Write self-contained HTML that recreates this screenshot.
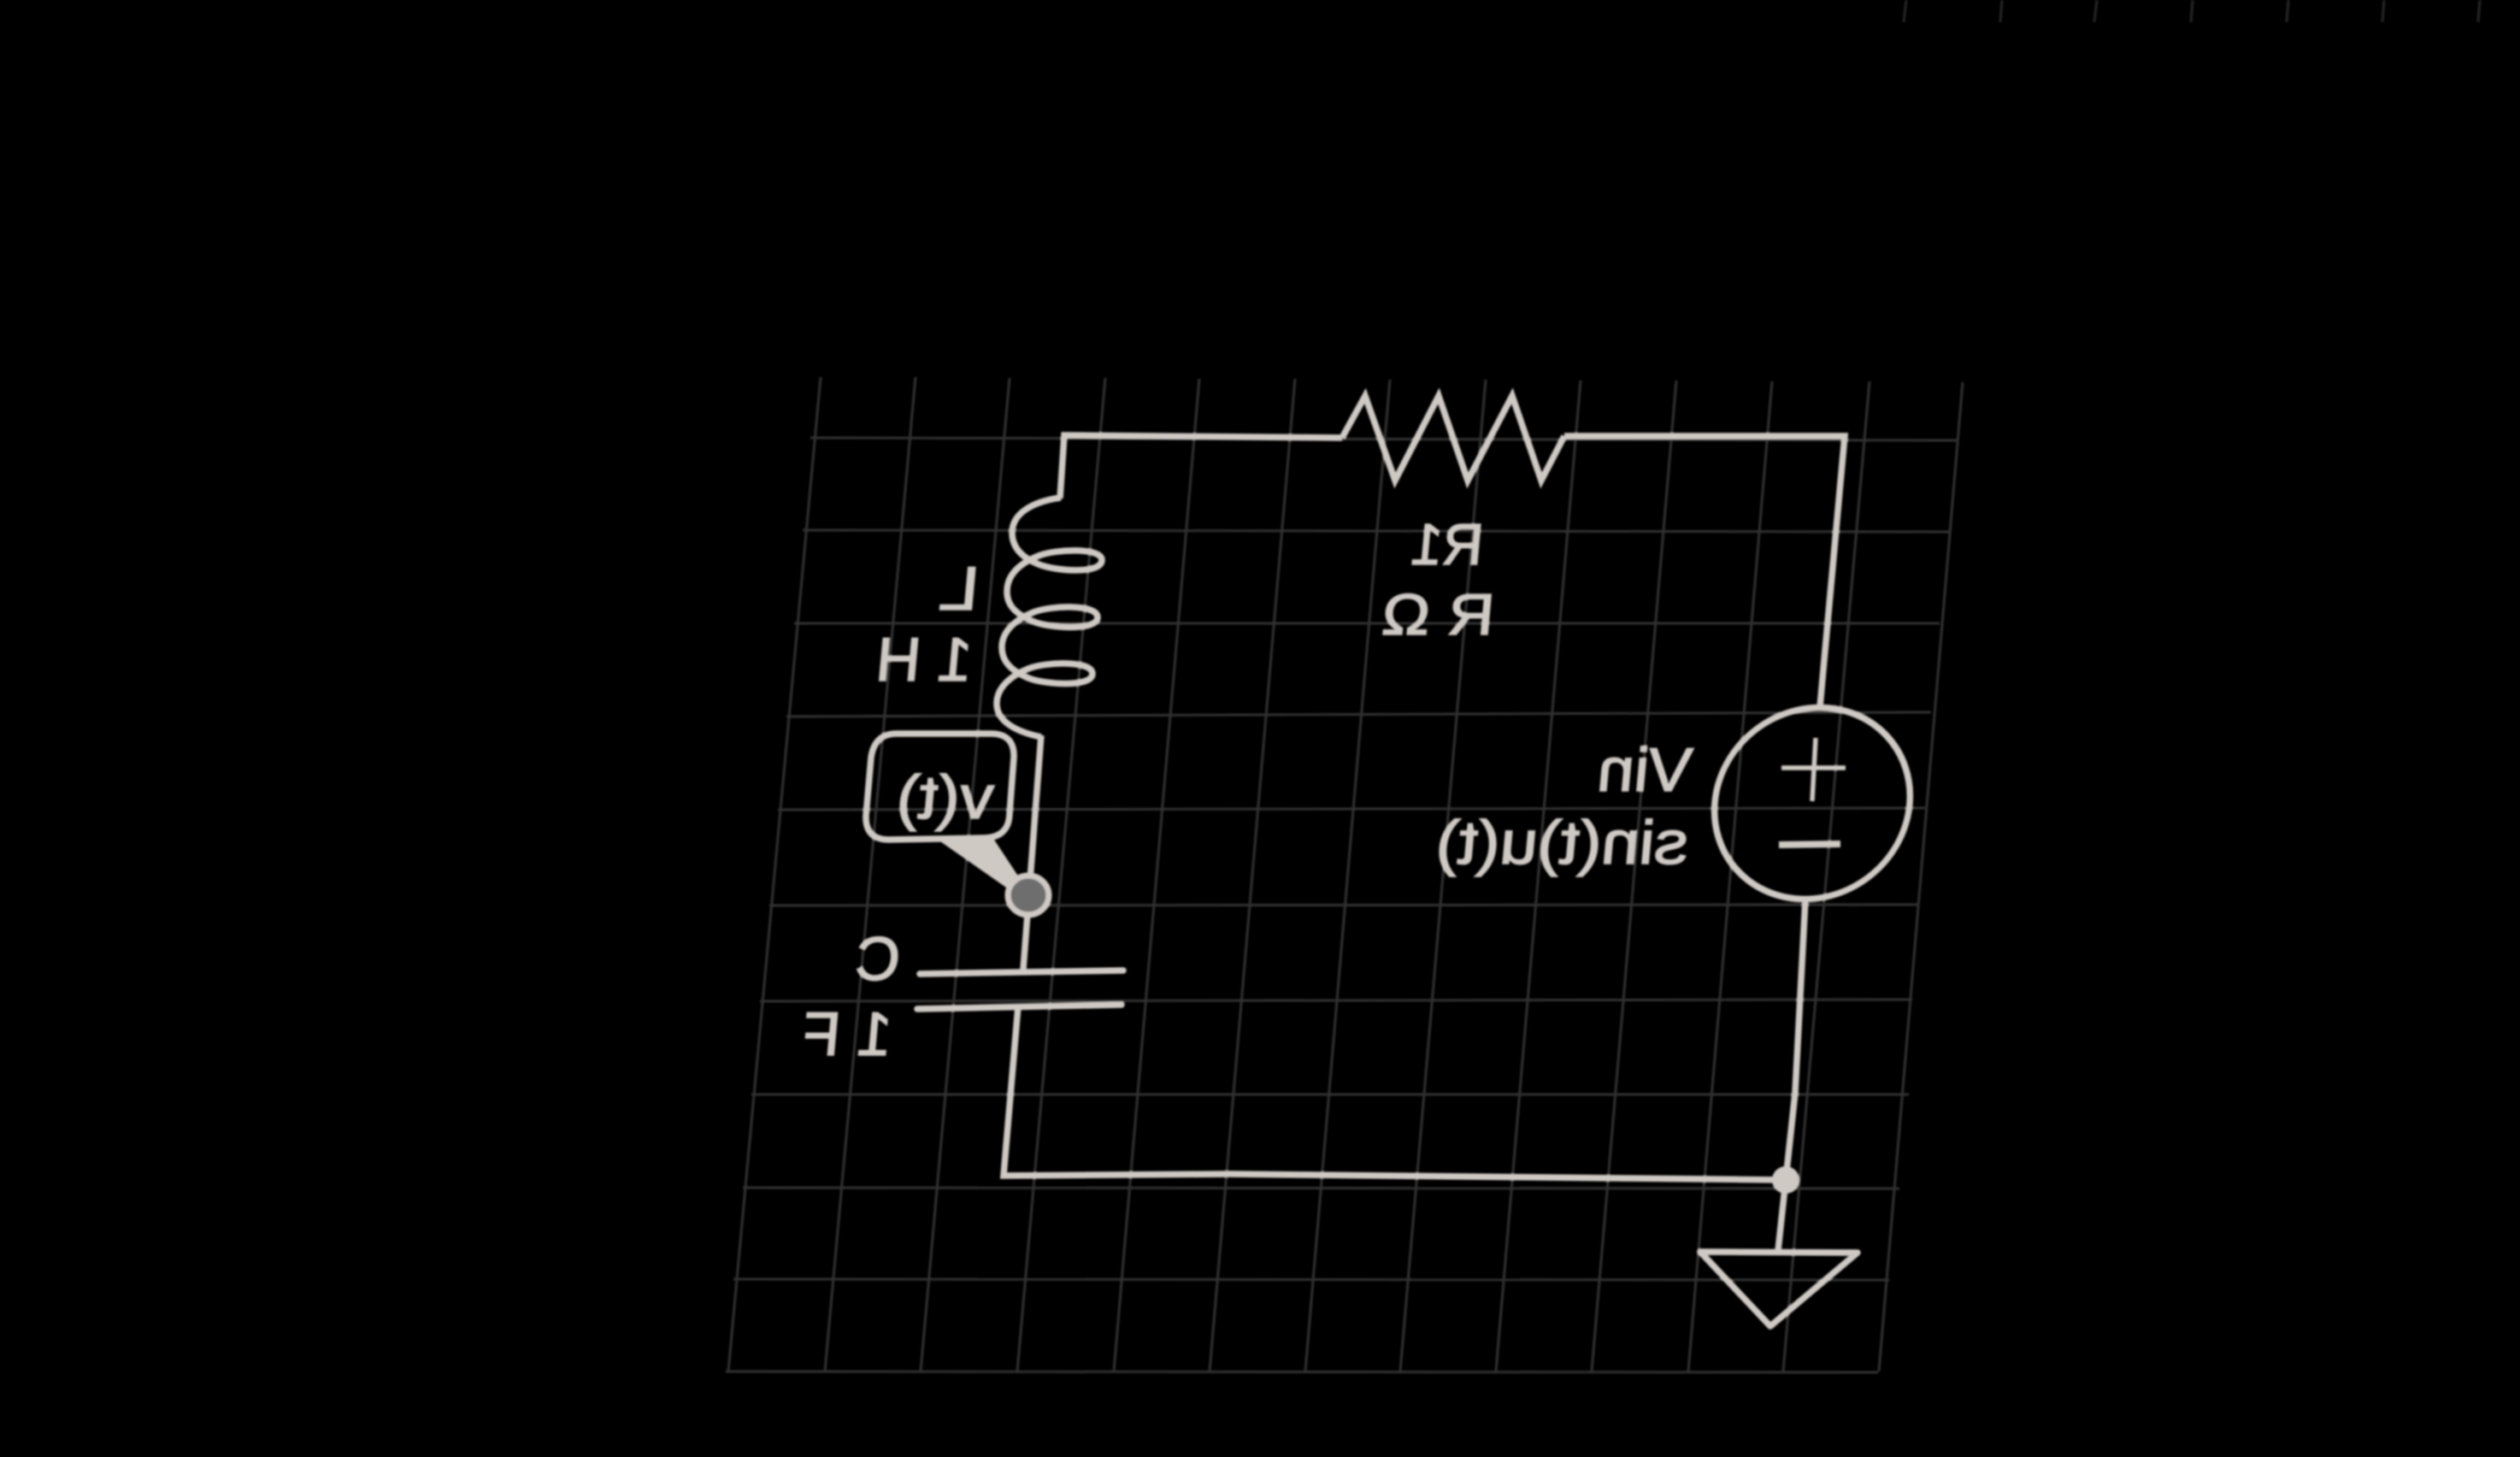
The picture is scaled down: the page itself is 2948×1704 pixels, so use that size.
<!DOCTYPE html>
<html lang="en">
<head>
<meta charset="utf-8">
<title>Mirrored RLC circuit schematic</title>
<style>
html,body{margin:0;padding:0;background:#000;width:2948px;height:1704px;overflow:hidden}
svg{display:block}
text{font-family:"Liberation Sans","DejaVu Sans",sans-serif;fill:#cfc9c4;stroke:#cfc9c4;stroke-width:1.6;font-size:72px}
.grid line{stroke:#323232;stroke-width:3}
.ticks line{stroke:#262626;stroke-width:3}
.wire{fill:none;stroke:#cfc9c4;stroke-width:7.5;stroke-linecap:butt}
</style>
</head>
<body>
<svg xmlns="http://www.w3.org/2000/svg" width="2948" height="1704" viewBox="0 0 2948 1704">
<defs><filter id="soft" x="0" y="0" width="2948" height="1704" filterUnits="userSpaceOnUse"><feGaussianBlur stdDeviation="1.1"/></filter></defs>
<rect width="2948" height="1704" fill="#000"/>
<g filter="url(#soft)">
<g class="ticks">
<line x1="2230" y1="0" x2="2227" y2="26"/><line x1="2342" y1="0" x2="2340" y2="26"/><line x1="2453" y1="0" x2="2450" y2="26"/><line x1="2565" y1="0" x2="2563" y2="26"/><line x1="2677" y1="0" x2="2675" y2="26"/><line x1="2789" y1="0" x2="2787" y2="26"/><line x1="2901" y1="0" x2="2899" y2="26"/>
</g>
<g class="grid">
<line x1="960" y1="441" x2="852" y2="1604"/><line x1="1071" y1="441" x2="965" y2="1604"/><line x1="1181" y1="442" x2="1077" y2="1604"/><line x1="1293" y1="442" x2="1190" y2="1604"/><line x1="1403" y1="443" x2="1303" y2="1604"/><line x1="1515" y1="443" x2="1415" y2="1604"/><line x1="1626" y1="444" x2="1527" y2="1604"/><line x1="1738" y1="444" x2="1638" y2="1604"/><line x1="1849" y1="445" x2="1750" y2="1604"/><line x1="1961" y1="445" x2="1862" y2="1604"/><line x1="2073" y1="446" x2="1975" y2="1604"/><line x1="2187" y1="446" x2="2086" y2="1604"/><line x1="2296" y1="447" x2="2198" y2="1604"/>
</g>
<g class="grid">
<line x1="948" y1="512" x2="2290" y2="515"/><line x1="939" y1="620" x2="2281" y2="622"/><line x1="929" y1="729" x2="2269" y2="729"/><line x1="920" y1="838" x2="2259" y2="833"/><line x1="910" y1="947" x2="2252" y2="945"/><line x1="900" y1="1059" x2="2245" y2="1058"/><line x1="889" y1="1171" x2="2237" y2="1169"/><line x1="879" y1="1280" x2="2233" y2="1280"/><line x1="869" y1="1389" x2="2222" y2="1390"/><line x1="858" y1="1496" x2="2210" y2="1497"/><line x1="849" y1="1604" x2="2197" y2="1605"/>
</g>

<polyline class="wire" points="1570,512 1245,509 1240,583"/>
<polyline class="wire" points="1570,512 1597,463 1632,562 1683,463 1717,562 1769,463 1803,562 1830,510"/>
<polyline class="wire" points="1830,510 2158,510 2129,827"/>
<path class="wire" d="M1241,582 C1205,587 1184,602 1184,623 C1184,640 1195,652 1215,660 C1235,668 1289,672 1289,655 C1289,640 1235,642 1215,650 C1200,656 1178,668 1178,692 C1178,708 1188,718 1209,727 C1229,735 1284,738 1284,722 C1284,706 1229,708 1209,716 C1194,722 1172,735 1172,757 C1172,773 1182,784 1203,793 C1223,801 1278,804 1278,788 C1278,772 1223,774 1203,782 C1188,788 1166,801 1166,823 C1166,842 1185,855 1218,862"/>
<polyline class="wire" points="1218,860 1197,1134"/>
<line class="wire" x1="1076" y1="1139" x2="1314" y2="1135" style="stroke-linecap:round"/>
<line class="wire" x1="1073" y1="1180" x2="1312" y2="1175" style="stroke-linecap:round"/>
<polyline class="wire" points="1191,1177 1174,1375 1440,1373 2089,1380"/>
<polyline class="wire" points="2112,1052 2100,1278 2089,1380 2080,1463"/>

<g>
<ellipse class="wire" cx="0" cy="0" rx="114" ry="112" transform="translate(2120 939.5) skewX(-4.5)"/>
<line class="wire" x1="2084" y1="898" x2="2159" y2="898" style="stroke-width:5.5"/>
<line class="wire" x1="2124" y1="863" x2="2120" y2="937" style="stroke-width:5.5"/>
<line class="wire" x1="2081" y1="988" x2="2153" y2="987" style="stroke-width:8"/>
</g>

<circle cx="2089" cy="1380" r="16" fill="#cfc9c4"/>
<polygon class="wire" points="1989,1464 2173,1465 2071,1551" style="stroke-linejoin:round"/>

<path class="wire" d="M1049,858 L1159,858 Q1187,858 1186,886 L1181,952 Q1180,979 1152,980 L1040,982 Q1012,982 1013,954 L1019,886 Q1023,858 1049,858 Z"/>
<polygon points="1097,982 1161,979 1198,1035 1180,1040" fill="#cfc9c4"/>
<ellipse cx="1203" cy="1047" rx="24" ry="23" fill="#6e6e6e" stroke="#cfc9c4" stroke-width="7"/>

<text transform="matrix(-1,0,-0.09,1,1733,660)" style="font-size:68px" textLength="84" lengthAdjust="spacingAndGlyphs">R1</text>
<text transform="matrix(-1,0,-0.09,1,1746,742)" style="font-size:68px" textLength="131" lengthAdjust="spacingAndGlyphs">R Ω</text>
<text transform="matrix(-1,0,-0.09,1,1143,713)" textLength="46" lengthAdjust="spacingAndGlyphs">L</text>
<text transform="matrix(-1,0,-0.09,1,1135,796)" textLength="112" lengthAdjust="spacingAndGlyphs">1 H</text>
<text transform="matrix(-1,0,-0.09,1,1051,1146)" textLength="52" lengthAdjust="spacingAndGlyphs">C</text>
<text transform="matrix(-1,0,-0.09,1,1041,1234)" textLength="104" lengthAdjust="spacingAndGlyphs">1 F</text>
<text transform="matrix(-1,0,-0.09,1,1977,925)" textLength="110" lengthAdjust="spacingAndGlyphs">Vin</text>
<text transform="matrix(-1,0,-0.09,1,1973,1010)" textLength="295" lengthAdjust="spacingAndGlyphs">sin(t)u(t)</text>
<text transform="matrix(-1,0,-0.09,1,1160,957)" textLength="113" lengthAdjust="spacingAndGlyphs">v(t)</text>
</g>
</svg>
</body>
</html>
